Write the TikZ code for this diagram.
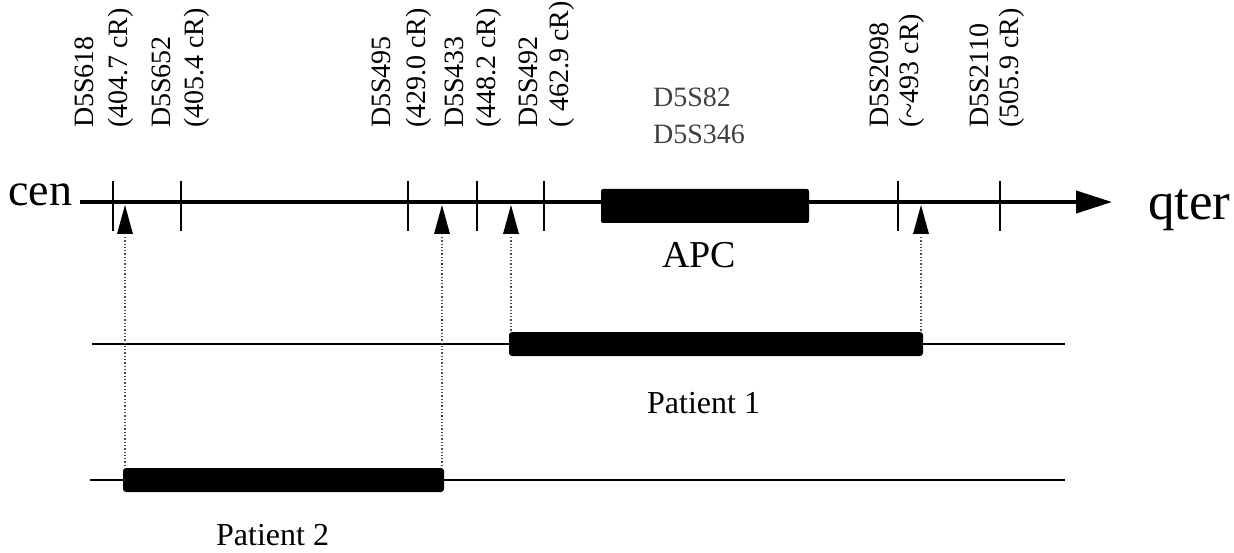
\documentclass[tikz,border=0pt]{standalone}
\usepackage{fontspec}
\setmainfont{Liberation Serif}
\usetikzlibrary{arrows.meta}
\begin{document}
\begin{tikzpicture}[x=1pt,y=-1pt,
  lbl/.style={rotate=90,anchor=base west,inner sep=0pt,font=\fontsize{28}{30}\selectfont},
  tick/.style={line width=2pt},
  marker/.style={fill=black},
  bar/.style={fill=black,rounded corners=3pt},
  thin/.style={line width=2pt},
  guide/.style={line width=1.3pt,dotted,black!70},
  bigtxt/.style={inner sep=0pt,anchor=base west}]
\useasboundingbox (0,0) rectangle (1234,553);
% main axis
\coordinate (axs) at (80,202);
\coordinate (axe) at (1112,202);
\draw[line width=4pt,-{Triangle[length=36pt,width=22pt]}] (axs) -- (axe);
\node[bigtxt,font=\fontsize{46}{48}\selectfont] (cen) at (8,206) {cen};
\node[bigtxt,font=\fontsize{53}{55}\selectfont] (qter) at (1148,220) {qter};
% ticks
\foreach \x in {113,181,408,477,544,898,1000}
  \draw[tick] (\x,181) -- (\x,231);
% APC
\node[fill=black,minimum width=208pt,minimum height=34pt,inner sep=0pt,rounded corners=2pt] (apc) at (705,206) {};
\node[bigtxt,font=\fontsize{38}{40}\selectfont] (apct) at (662,268) {APC};
\node[bigtxt,text=black!75,font=\fontsize{28}{30}\selectfont] (d82) at (653,107) {D5S82};
\node[bigtxt,text=black!75,font=\fontsize{28}{30}\selectfont] (d346) at (653,144) {D5S346};
% marker labels
\node[lbl] (l1) at (93,128) {D5S618};
\node[lbl] (l1b) at (127,128) {(404.7 cR)};
\node[lbl] (l2) at (170,128) {D5S652};
\node[lbl] (l2b) at (203,128) {(405.4 cR)};
\node[lbl] (l3) at (390,128) {D5S495};
\node[lbl] (l3b) at (425,128) {(429.0 cR)};
\node[lbl] (l4) at (463,128) {D5S433};
\node[lbl] (l4b) at (495,128) {(448.2 cR)};
\node[lbl] (l5) at (537,128) {D5S492};
\node[lbl] (l5b) at (568,128) {( 462.9 cR)};
\node[lbl] (l6) at (888,128) {D5S2098};
\node[lbl] (l6b) at (918,128) {(\char126\relax 493 cR)};
\node[lbl] (l7) at (988,128) {D5S2110};
\node[lbl] (l7b) at (1018,128) {(505.9 cR)};
% up-arrow markers
\foreach \n/\x in {a/125,b/442,c/511,d/921}{
  \fill[marker] (\x-8,234) -- (\x,205) -- (\x+8,234) -- cycle;
  \coordinate (m\n) at (\x,237);
}
% patient lines
\coordinate (p1s) at (92,344);
\coordinate (p1e) at (1065,344);
\draw[thin] (p1s) -- (p1e);
\fill[bar] (509,332) rectangle (923,356);
\coordinate (b1l) at (511,332);
\coordinate (b1r) at (921,332);
\coordinate (p2s) at (90,480);
\coordinate (p2e) at (1065,480);
\draw[thin] (p2s) -- (p2e);
\fill[bar] (123,468) rectangle (444,492);
\coordinate (b2l) at (125,468);
\coordinate (b2r) at (442,468);
% guides
\draw[guide] (ma) -- (b2l);
\draw[guide] (mb) -- (b2r);
\draw[guide] (mc) -- (b1l);
\draw[guide] (md) -- (b1r);
% patient labels
\node[bigtxt,font=\fontsize{32}{34}\selectfont] (pt1) at (647,413) {Patient 1};
\node[bigtxt,font=\fontsize{32}{34}\selectfont] (pt2) at (216,545) {Patient 2};
\end{tikzpicture}
\end{document}
